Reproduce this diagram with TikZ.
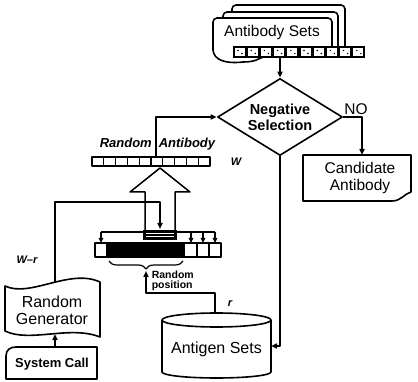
\documentclass[tikz,border=0pt]{standalone}
\usepackage{fontspec}
\setmainfont{Liberation Sans}
\usetikzlibrary{arrows.meta,decorations.pathreplacing,shapes.geometric}

\begin{document}
\begin{tikzpicture}[x=1pt,y=-1pt,line width=1.6pt,line join=round,
  conn/.style={draw,line width=1.6pt,-{Triangle[length=6pt,width=5pt]}},
  short/.style={draw,line width=1.4pt,-{Triangle[length=5pt,width=4.5pt]}},
  plain/.style={draw,line width=1.6pt},
  txt/.style={inner sep=0pt,align=center,font=\fontsize{15.5}{17}\selectfont},
  boldtxt/.style={inner sep=0pt,align=center,font=\bfseries\fontsize{14.5}{16}\selectfont},
  tag/.style={inner sep=0pt,font=\bfseries\itshape\fontsize{11}{12}\selectfont},
  ]
\useasboundingbox (0,0) rectangle (418,382);

% ---- Antibody sets: stacked documents with a cell strip
\draw[fill=white,rounded corners=4pt] (232,46) -- (232,5) -- (345,5) -- (345,46);
\draw[fill=white,rounded corners=4pt] (223,46) -- (223,12) -- (338,12) -- (338,46);
\draw[fill=white] (262,57) .. controls (255,61) and (250,62) .. (243,62)
  .. controls (225,64) and (214,60) .. (213,50)
  [rounded corners=4pt] -- (213,18) -- (332,18) -- (332,50) -- cycle;
\node[txt] (abs) at (272,32) {Antibody Sets};
\fill (233,46) rectangle (365,58);
\foreach \i in {0,...,9}{
  \fill[white] ({234.6+13.2*\i},47.6) rectangle ({244.6+13.2*\i},56.4);
  \fill ({238+13.2*\i},50.5) circle[radius=0.8pt];
  \fill ({242+13.2*\i},53.5) circle[radius=0.8pt];
}
\coordinate (absout) at (280,58);

% ---- Negative selection decision
\node[draw,diamond,aspect=1.62,inner sep=0pt,minimum width=125pt,minimum height=77pt,
      fill=white,boldtxt] (neg) at (280,117) {Negative\\Selection};
\draw[conn] (absout) -- (neg.north);

% ---- Candidate antibody document
\node[txt] (no) at (356,109) {NO};
\draw[fill=white] (303,201) -- (303,155) -- (411,155) -- (411,192)
  .. controls (404,194) and (401,201) .. (392,201) -- cycle;
\node[txt] (cand) at (360,178) {Candidate\\Antibody};
\coordinate (candtop) at (362,155);
\draw[conn] (neg.east) -| (candtop);

% ---- Random antibody strip
\node[draw,fill=white,minimum width=118pt,minimum height=9pt,inner sep=0pt,line width=1.5pt] (ra) at (151,161.5) {};
\foreach \i in {1,...,9}{
  \draw[line width=1.2pt] ({92+11.8*\i},157) -- ({92+11.8*\i},166);
}
\node[tag,font=\bfseries\itshape\fontsize{13}{14}\selectfont,anchor=base west] (ralbl) at (99,148) {Random\hspace{7pt}Antibody};
\node[tag] (wl) at (236,162) {W};
\coordinate (raout) at (156,157);
\draw[conn] (raout) |- (neg.west);

% ---- Hollow arrow from the gene pool up to the random antibody
\draw[fill=white,line width=1.5pt] (145,231) -- (145,192) -- (130,192) -- (160,168)
  -- (190,192) -- (175,192) -- (175,231);
\fill (143,230) rectangle (177,240);
\draw[white,line width=0.9pt] (146,233.5) -- (174,233.5) (146,236.8) -- (174,236.8);
\coordinate (blktop) at (160,229);

% ---- Gene pool strip with its feed lines
\node[draw,fill=white,minimum width=126pt,minimum height=14pt,inner sep=0pt,line width=1.5pt] (pool) at (158,250) {};
\fill (107,243) rectangle (185,257);
\draw[line width=1.5pt] (107,243) -- (107,257) (197,243) -- (197,257) (209,243) -- (209,257);
\draw[plain] (101,232) -- (215,232);
\foreach \x in {101,191,203,215}{
  \coordinate (top\x) at (\x,232);
  \coordinate (cell\x) at (\x,243);
  \draw[short] (top\x) -- (cell\x);
}
\draw[line width=1.2pt,decorate,decoration={brace,mirror,amplitude=8pt}] (109,261) -- (183,261);
\coordinate (bracetip) at (146,271);
\node[tag,font=\bfseries\fontsize{10.5}{10}\selectfont,anchor=west,align=left] (rp) at (151,281) {Random\\position};

% ---- Antigen sets cylinder
\draw[fill=white] (162,320) -- (162,372) arc[start angle=180,end angle=360,x radius=54.5pt,y radius=6pt] -- (271,320);
\draw[fill=white] (216.5,320) ellipse[x radius=54.5pt,y radius=7pt];
\node[txt,font=\fontsize{16}{17}\selectfont] (ag) at (216.5,349) {Antigen Sets};
\coordinate (agtop) at (215,313);
\coordinate (agright) at (271,346);
\coordinate (agbend) at (215,293);
\draw[conn] (agtop) -- (agbend) -| (bracetip);
\draw[conn] (neg.south) |- (agright);
\node[tag] (rl) at (230,304) {r};

% ---- Random generator (punched tape)
\draw[fill=white] (5,286) .. controls (30,298) and (70,268) .. (100,282)
  -- (100,337) .. controls (70,325) and (30,343) .. (5,331) -- cycle;
\node[txt,font=\fontsize{16}{17}\selectfont] (rg) at (52,310) {Random\\Generator};
\coordinate (rgtop) at (55,282);
\coordinate (rgbot) at (55,334);
\coordinate (jn) at (160,202);
\draw[conn] (rgtop) |- (jn) -- (blktop);
\node[tag] (wr) at (27,260) {W--r};

% ---- System call
\draw[fill=white] (6,379) -- (6,356) .. controls (6,350) and (10,347) .. (16,347)
  -- (97,347) -- (97,379) -- cycle;
\node[inner sep=0pt,font=\bfseries\fontsize{13}{14}\selectfont] (sc) at (52,364) {System Call};
\coordinate (sctop) at (55,347);
\draw[conn] (sctop) -- (rgbot);
\end{tikzpicture}
\end{document}
